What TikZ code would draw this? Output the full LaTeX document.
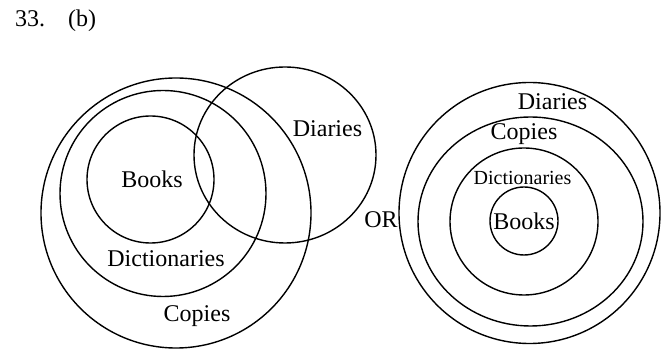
\documentclass[tikz,border=0pt]{standalone}
\usepackage{fontspec}
\setmainfont{Liberation Serif}
\usetikzlibrary{positioning}

\begin{document}
\begin{tikzpicture}[
  x=1pt, y=1pt,
  every node/.style={inner sep=0pt, anchor=base, font=\fontsize{24}{28}\selectfont},
  ring/.style={draw, line width=1.4pt},
  small/.style={font=\fontsize{20}{24}\selectfont},
]
  \useasboundingbox (0,0) rectangle (666,350);

  % Heading
  \node[anchor=base west] (num) at (15,323) {33.};
  \node[anchor=base west] (opt) at (68,323) {(b)};

  % Left diagram
  \draw[ring] (176,137) circle[radius=135];
  \draw[ring] (163,156.5) circle[radius=103];
  \draw[ring] (150.5,170.5) circle[radius=63.5];
  \draw[ring] (285,195) ellipse[x radius=91, y radius=88];

  \node (lbooks) at (152,162) {Books};
  \node (ldict) at (166,83) {Dictionaries};
  \node (lcopies) at (197,28) {Copies};
  \node (ldiaries) at (327.5,213) {Diaries};

  \node (or) at (381,122) {OR};

  % Right diagram
  \draw[ring] (529.5,137) circle[radius=130.5];
  \draw[ring] (530.5,128.5) ellipse[x radius=112.5, y radius=104.5];
  \draw[ring] (524,128.5) ellipse[x radius=74, y radius=73.5];
  \draw[ring] (524,129) circle[radius=34];

  \node (rdiaries) at (552.5,240) {Diaries};
  \node (rcopies) at (524,210) {Copies};
  \node[small] (rdict) at (522.5,165) {Dictionaries};
  \node (rbooks) at (524,120) {Books};
\end{tikzpicture}
\end{document}
